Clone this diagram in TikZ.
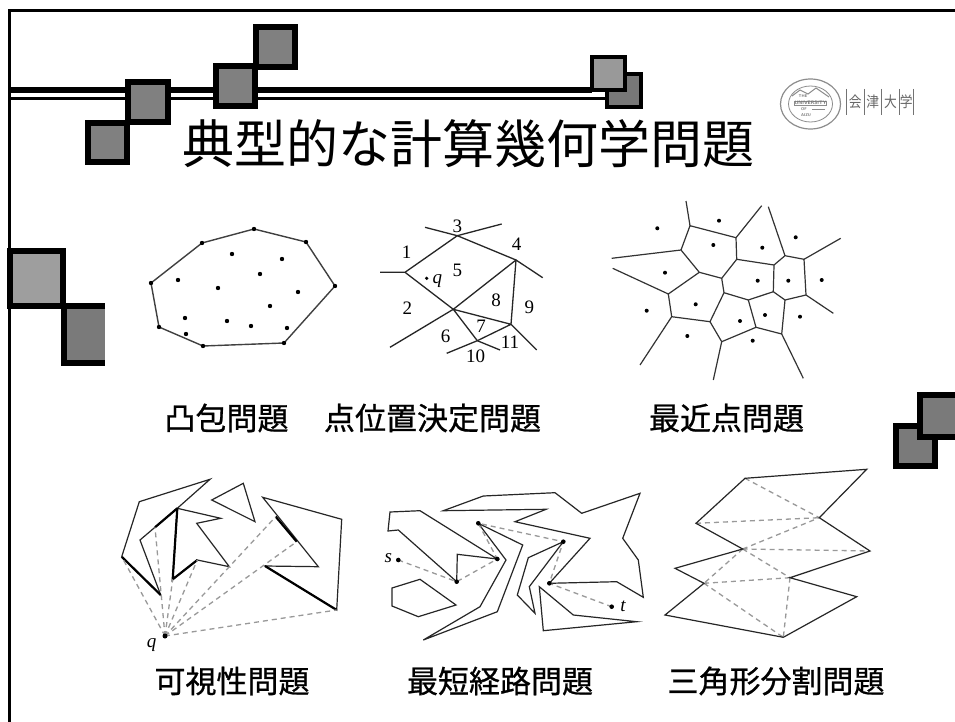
\documentclass[tikz,border=0pt]{standalone}
\usepackage{fontspec}
\newfontfamily\jp{Noto Sans CJK JP}
\newfontfamily\jpc[FakeBold=0.8]{Noto Sans CJK JP}
\newfontfamily\ser{Liberation Serif}
\begin{document}
\begin{tikzpicture}[x=1pt,y=-1pt,
  sqbox/.style={draw=black,line width=6pt},
  sqthin/.style={draw=black,line width=4.5pt},
  hull/.style={draw=black!75,line width=1.4pt,line join=round},
  pl/.style={draw=black!85,line width=1.3pt,line join=round},
  vor/.style={draw=black!80,line width=1.2pt,line join=round},
  poly/.style={draw=black!85,line width=1.2pt,line join=miter},
  boldedge/.style={draw=black,line width=2.2pt},
  dashln/.style={draw=black!40,line width=1.3pt,dash pattern=on 5pt off 4pt},
  lab/.style={font=\ser\fontsize{19}{19}\selectfont,inner sep=0pt},
  capt/.style={font=\jpc\fontsize{31}{31}\selectfont,inner sep=0pt}
]
\useasboundingbox (0,0) rectangle (955,722);
\fill[white] (0,0) rectangle (955,722);
% frame
\draw[line width=3pt] (955,11) -- (9,11) -- (9,722);
% double line
\draw[line width=6pt] (8,90.3) -- (592,90.3);
\draw[line width=3.3pt] (8,98.3) -- (608,98.3);
% squares top
\draw[sqbox,fill=black!50] (88,123) rectangle (127,162);
\draw[sqbox,fill=black!50] (128,82) rectangle (168,122);
\draw[sqbox,fill=black!50] (216,66) rectangle (255,106);
\draw[sqbox,fill=black!50] (256,27) rectangle (295,67);
\draw[sqthin,fill=black!53] (607,74) rectangle (641,107);
\draw[sqthin,fill=black!40] (592,57) rectangle (625,90);
% squares left
\draw[sqbox,fill=black!38] (10,251) rectangle (63,306);
\fill[black!52] (64,306) rectangle (105,363);
\draw[sqbox] (105,306) -- (64,306) -- (64,363) -- (105,363);
% squares right
\draw[sqbox,fill=black!52] (896,426) rectangle (935,466);
\draw[sqbox,fill=black!52] (920,395) rectangle (960,437);
% title
\node[font=\jp\fontsize{52}{52}\selectfont,inner sep=0pt] (title) at (468.5,144) {典型的な計算幾何学問題};
% logo
\draw[black!45,line width=1.2pt] (810.5,104) ellipse (30pt and 25pt);
\draw[black!45,line width=0.8pt] (810.5,104) ellipse (22pt and 18pt);
\draw[black!45,line width=1pt] (792,96) -- (800,90) -- (808,94) -- (816,88) -- (829,97);
\node[black!55,font=\sffamily\bfseries\fontsize{4}{4}\selectfont,inner sep=0pt] (lthe) at (803,96.5) {THE};
\node[black!55,font=\sffamily\bfseries\fontsize{5}{5}\selectfont,inner sep=0pt,draw=black!45,line width=0.5pt] (luniv) at (810.5,103) {UNIVERSITY};
\node[black!55,font=\sffamily\bfseries\fontsize{4}{4}\selectfont,inner sep=0pt] (lof) at (804,109) {OF};
\node[black!55,font=\sffamily\bfseries\fontsize{4}{4}\selectfont,inner sep=0pt] (laizu) at (806,115) {AIZU};
\draw[black!45,line width=0.6pt] (812,109) -- (825,109);
\foreach \bx in {846.7,864,881.7,899.3,913}{\draw[black!55,line width=0.9pt] (\bx,89) -- (\bx,115);}
\node[black!60,font=\jp\fontsize{15}{15}\selectfont,inner sep=0pt,xscale=0.85] (lk1) at (855.3,102) {会};
\node[black!60,font=\jp\fontsize{15}{15}\selectfont,inner sep=0pt,xscale=0.85] (lk2) at (872.8,102) {津};
\node[black!60,font=\jp\fontsize{15}{15}\selectfont,inner sep=0pt,xscale=0.85] (lk3) at (890.5,102) {大};
\node[black!60,font=\jp\fontsize{15}{15}\selectfont,inner sep=0pt,xscale=0.85] (lk4) at (906.2,102) {学};
% ---------- convex hull
\draw[hull] (151,283)--(202,243)--(254,229)--(306,242)--(335,286)--(284,343)--(203,346)--(159,327)--cycle;
\foreach \p in {(151,283),(202,243),(254,229),(306,242),(335,286),(284,343),(203,346),(159,327)}{\fill \p circle (2.2pt);}
\foreach \p in {(232,254),(282,259),(178,280),(260,274),(218,288),(298,292),(270,306),(185,318),(227,321),(251,326),(287,328),(186,334)}{\fill \p circle (2.2pt);}
% ---------- point location
\draw[pl] (425,227.3)--(457.3,235.7)--(501.7,224);
\draw[pl] (380,272.3)--(405,272.3)--(457.3,235.7)--(516,260)--(542.7,277.7);
\draw[pl] (405,272.3)--(453.3,309.3)--(390,347.3);
\draw[pl] (453.3,309.3)--(516,260)--(511,324.3)--(536.7,350);
\draw[pl] (453.3,309.3)--(511,324.3)--(477.3,340.7)--cycle;
\draw[pl] (446.7,353.3)--(477.3,340.7)--(500,350);
\fill (426.7,278.3) circle (1.8pt);
\node[lab] (l3) at (457.3,226) {3};
\node[lab] (l1) at (406.7,252.7) {1};
\node[lab] (l4) at (516.7,244) {4};
\node[lab] (l5) at (457.3,270.7) {5};
\node[lab] (lq) at (437.3,281) {\itshape q};
\node[lab] (l2) at (407.3,308.3) {2};
\node[lab] (l8) at (496,300.7) {8};
\node[lab] (l9) at (529.3,307.3) {9};
\node[lab] (l7) at (481,326.7) {7};
\node[lab] (l6) at (445.7,336.7) {6};
\node[lab] (l11) at (510,342.3) {11};
\node[lab] (l10) at (475.7,356.7) {10};
% ---------- voronoi
\coordinate (V1) at (681,250); \coordinate (V2) at (690,225.7); \coordinate (V3) at (736,237.7);
\coordinate (V4) at (699.3,272.3); \coordinate (V5) at (668.3,294); \coordinate (V6) at (721.7,278.3);
\coordinate (V7) at (736.7,259.3); \coordinate (V8) at (774,265); \coordinate (V9) at (785,255.7);
\coordinate (V10) at (804,259.3); \coordinate (V11) at (806,295); \coordinate (V12) at (785,300);
\coordinate (V13) at (773.3,291.7); \coordinate (V14) at (724,292.7); \coordinate (V15) at (748.3,300);
\coordinate (V16) at (781.7,334); \coordinate (V17) at (756,327.3); \coordinate (V18) at (721.7,341.7);
\coordinate (V19) at (710,321.7); \coordinate (V20) at (671.7,316.7);
\draw[vor] (611.7,258.3)--(V1)--(V2)--(V3)--(V7)--(V6)--(V4)--(V1);
\draw[vor] (612.7,268.3)--(V5)--(V4);
\draw[vor] (V2)--(686,201);
\draw[vor] (V3)--(761.7,205.7);
\draw[vor] (V7)--(V8)--(V9)--(V10)--(V11)--(V12)--(V13)--(V8);
\draw[vor] (V9)--(768.3,206.7);
\draw[vor] (V10)--(840.7,238.3);
\draw[vor] (V11)--(833.3,313.3);
\draw[vor] (V6)--(V14)--(V15)--(V13);
\draw[vor] (V12)--(V16)--(803.3,378.3);
\draw[vor] (V16)--(V17)--(V15);
\draw[vor] (V17)--(V18)--(713.3,380);
\draw[vor] (V18)--(V19)--(V14);
\draw[vor] (V19)--(V20)--(V5);
\draw[vor] (V20)--(640,365);
\foreach \p in {(657.3,228.3),(719,220.7),(713.3,245),(762.3,247.7),(795.7,237.3),(665,272.7),(757.7,280.7),(788.3,280.7),(821.7,280),(695.7,304.3),(646.7,310.7),(740,321),(765,315),(800,316.7),(687.3,336),(752.7,340.7)}{\fill \p circle (2pt);}
% ---------- captions row 1
\node[capt] (c1) at (226.5,418) {凸包問題};
\node[capt] (c2) at (432.5,418) {点位置決定問題};
\node[capt] (c3) at (726.5,418) {最近点問題};
% ---------- visibility
\coordinate (q) at (165,636);
\draw[poly] (121.7,556.7)--(139.3,501.7)--(210,479.3)--(177.3,508.3)--(140,540)--(160.7,595)--cycle;
\draw[poly] (177.3,508.3)--(220.7,518.3)--(196.7,523.3)--(229.3,566.7)--(197.3,560)--(172.7,579.3)--cycle;
\draw[poly] (211.7,500)--(243.3,483.3)--(255,521.7)--cycle;
\draw[poly] (262.7,497.3)--(341.7,519.3)--(336.7,610)--(265,566)--(318.3,566.7)--cycle;
\draw[boldedge] (177.3,508.3)--(155,527.3);
\draw[boldedge] (160.7,595)--(121.7,556.7);
\draw[boldedge] (177.3,508.3)--(172.7,579.3)--(197.3,560);
\draw[boldedge] (336.7,610)--(265,566);
\draw[boldedge] (275.7,516.7)--(296.7,541.7);
\foreach \p in {(121.7,556.7),(155,527.3),(172.7,579.3),(197.3,560),(275.7,516.7),(296.7,541.7),(336.7,610)}{\draw[dashln] (q) -- \p;}
\fill (q) circle (2.5pt);
\node[lab] (lqv) at (151.7,645) {\itshape q};
% ---------- shortest path
\draw[poly] (390,512)--(420,510.7)--(497.3,559)--(457.3,554.3)--(456.7,581.7)--(398.3,530)--(388,531)--cycle;
\draw[poly] (392,588)--(420,579.3)--(456,605)--(418.3,616.7)--(392,606)--cycle;
\draw[poly] (478.3,523.3)--(522.7,545)--(497.3,611.7)--(423.3,640)--(480,606.7)--(506,560)--cycle;
\draw[poly] (563.3,541.7)--(528.3,557.7)--(517.3,595)--(535,613.3)--(529.3,586.7)--cycle;
\draw[poly] (443.3,510.7)--(483.3,496)--(555,492.7)--(581.7,513.3)--(640,493.3)--(622.7,538.3)--(638.3,560)--(643.3,597.3)--(616.7,581.7)--(549.3,583.3)--(590,538.3)--(515,521.7)--(546,509.3)--cycle;
\draw[poly] (539.3,586.7)--(573.3,615)--(636.7,621.7)--(543.3,630.7)--cycle;
\coordinate (s) at (398.3,560); \coordinate (t) at (611.7,606.7);
\draw[dashln] (s)--(456.7,581.7)--(497.3,559)--(478.3,523.3)--(563.3,541.7)--(549.3,583.3)--(t);
\foreach \p in {(s),(456.7,581.7),(497.3,559),(478.3,523.3),(563.3,541.7),(549.3,583.3),(t)}{\fill \p circle (2.3pt);}
\node[lab] (ls) at (388.3,558) {\itshape s};
\node[lab] (lt) at (623,606) {\itshape t};
% ---------- triangulation
\coordinate (T1) at (745,478.3); \coordinate (T2) at (866.7,469.3); \coordinate (T3) at (819.3,517.7);
\coordinate (T4) at (870,551); \coordinate (T5) at (790,577.7); \coordinate (T6) at (856.7,596.7);
\coordinate (T7) at (783.3,637.3); \coordinate (T8) at (665,615); \coordinate (T9) at (704,583.3);
\coordinate (T10) at (675,568.3); \coordinate (T11) at (742.7,549); \coordinate (T12) at (696,523.3);
\draw[dashln] (T1)--(T3) (T12)--(T3) (T11)--(T3) (T11)--(T4) (T11)--(T5) (T11)--(T9) (T9)--(T5) (T9)--(T7) (T5)--(T7);
\draw[poly] (T1)--(T2)--(T3)--(T4)--(T5)--(T6)--(T7)--(T8)--(T9)--(T10)--(T11)--(T12)--cycle;
% ---------- captions row 2
\node[capt] (c4) at (232,681) {可視性問題};
\node[capt] (c5) at (500,681) {最短経路問題};
\node[capt] (c6) at (776,681) {三角形分割問題};
\end{tikzpicture}
\end{document}
